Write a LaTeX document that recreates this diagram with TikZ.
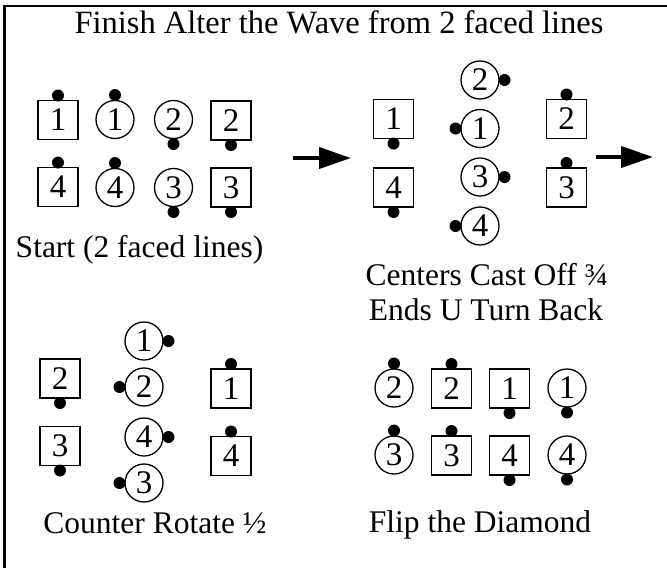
\documentclass[tikz,border=0pt]{standalone}
\usepackage{fontspec}
\setmainfont{Liberation Serif}
\usetikzlibrary{arrows.meta,calc}
\tikzset{
  sq/.style={draw, line width=1.3pt, minimum width=40pt, minimum height=39pt, inner sep=0pt, font=\fontsize{33}{33}\selectfont},
  cr/.style={draw, circle, line width=1.3pt, minimum size=38pt, inner sep=0pt, font=\fontsize{33}{33}\selectfont},
  facedot/.style={fill, circle, inner sep=0pt, minimum size=12pt},
  lbl/.style={font=\fontsize{31.5}{36}\selectfont, anchor=base, inner sep=0pt},
  movearrow/.style={line width=4pt, -{Triangle[length=32pt,width=21pt]}},
  frame/.style={line width=2.5pt},
}
\newcommand\dancer[7]{%
  \node[#4] (#1) at (#2,#3) {\raisebox{-2pt}{#5}};
  \node[facedot] (#1d) at ($(#1.center)+(#6,#7)$) {};
}
\begin{document}
\begin{tikzpicture}[x=1pt,y=-1pt]
\useasboundingbox (0,0) rectangle (667,568);
\fill[white] (0,0) rectangle (667,568);
\draw[frame] (4.5,568) -- (4.5,6) -- (667,6);
\node[lbl, font=\fontsize{32.5}{36}\selectfont] (title) at (339,33.5) {Finish Alter the Wave from 2 faced lines};
% Stage 1
\dancer{aS1}{58}{120}{sq}{1}{0}{-24.5}
\dancer{aC1}{115}{119.5}{cr}{1}{0}{-24.5}
\dancer{aC2}{173.5}{119.5}{cr}{2}{0}{24.5}
\dancer{aS2}{231}{120.5}{sq}{2}{0}{24.5}
\dancer{aS4}{58}{187}{sq}{4}{0}{-24.5}
\dancer{aC4}{115}{187.5}{cr}{4}{0}{-24.5}
\dancer{aC3}{173.5}{187.5}{cr}{3}{0}{24.5}
\dancer{aS3}{231}{187.5}{sq}{3}{0}{24.5}
\node[lbl] (lblA) at (139.5,257) {Start (2 faced lines)};
\coordinate (arA1) at (293,158);
\coordinate (arA2) at (351,158);
\draw[movearrow] (arA1) -- (arA2);
% Stage 2
\dancer{bS1}{393.5}{119}{sq}{1}{0}{24.5}
\dancer{bS4}{393.5}{187.5}{sq}{4}{0}{24.5}
\dancer{bC2}{480}{80}{cr}{2}{24.5}{0}
\dancer{bC1}{480}{128.5}{cr}{1}{-24.5}{0}
\dancer{bC3}{480}{177}{cr}{3}{24.5}{0}
\dancer{bC4}{480}{226}{cr}{4}{-24.5}{0}
\dancer{bS2}{566.5}{119}{sq}{2}{0}{-24.5}
\dancer{bS3}{566.5}{187.5}{sq}{3}{0}{-24.5}
\node[lbl] (lblB1) at (487,285) {Centers Cast Off ¾};
\node[lbl] (lblB2) at (486,320) {Ends U Turn Back};
\coordinate (arB1) at (596,157);
\coordinate (arB2) at (653,157);
\draw[movearrow] (arB1) -- (arB2);
% Stage 3
\dancer{cS2}{60}{378.5}{sq}{2}{0}{24.5}
\dancer{cS3}{60}{446}{sq}{3}{0}{24.5}
\dancer{cC1}{144}{341}{cr}{1}{24.5}{0}
\dancer{cC2}{144}{387}{cr}{2}{-24.5}{0}
\dancer{cC4}{144}{437}{cr}{4}{24.5}{0}
\dancer{cC3}{144}{483}{cr}{3}{-24.5}{0}
\dancer{cS1}{231}{388.5}{sq}{1}{0}{-24.5}
\dancer{cS4}{231}{456}{sq}{4}{0}{-24.5}
\node[lbl] (lblC) at (155,533) {Counter Rotate ½};
% Stage 4
\dancer{dC2}{394}{388}{cr}{2}{0}{-24.5}
\dancer{dS2}{451.5}{388.5}{sq}{2}{0}{-24.5}
\dancer{dS1}{509.5}{388.5}{sq}{1}{0}{24.5}
\dancer{dC1}{567}{388}{cr}{1}{0}{24.5}
\dancer{dC3}{394}{455}{cr}{3}{0}{-24.5}
\dancer{dS3}{451.5}{455.5}{sq}{3}{0}{-24.5}
\dancer{dS4}{509.5}{455.5}{sq}{4}{0}{24.5}
\dancer{dC4}{567}{455}{cr}{4}{0}{24.5}
\node[lbl] (lblD) at (480,532) {Flip the Diamond};
\end{tikzpicture}
\end{document}
